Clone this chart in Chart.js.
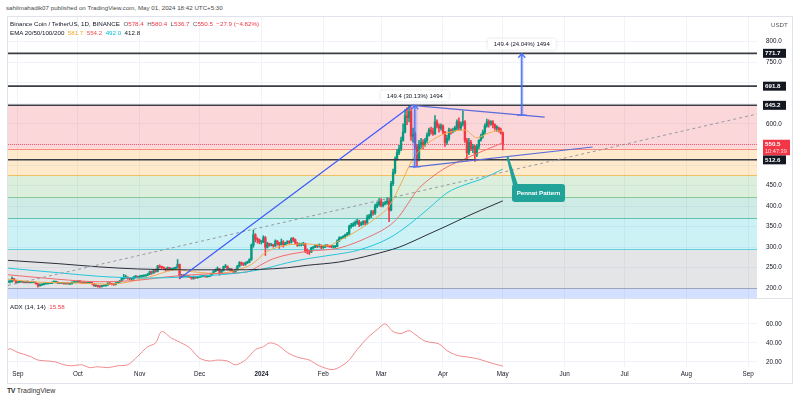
<!DOCTYPE html>
<html><head><meta charset="utf-8">
<script src="https://cdn.jsdelivr.net/npm/chart.js@4.4.1/dist/chart.umd.min.js"></script>
<style>
html,body{margin:0;padding:0;background:#fff;width:800px;height:400px;overflow:hidden;font-family:"Liberation Sans",Arial,sans-serif;}
.t{position:absolute;white-space:nowrap;font-size:6.2px;color:#131722;line-height:1;}
#frame{position:absolute;left:7px;top:16px;width:786px;height:368px;border:1px solid #e0e3eb;box-sizing:border-box;}
#w1{position:absolute;left:8px;top:17px;width:784px;height:281px;}
#w2{position:absolute;left:8px;top:299px;width:784px;height:83px;}
#sep{position:absolute;left:8px;top:298px;width:784px;height:1px;background:#e0e3eb;}
</style></head><body>
<div class="t" style="left:6px;top:5px;color:#4a4a4a;">sahilmahadik07 published on TradingView.com, May 01, 2024 18:42 UTC+5:30</div>
<div id="frame"></div>
<div id="w1"><canvas id="main" width="784" height="281"></canvas></div>
<div id="sep"></div>
<div id="w2"><canvas id="adx" width="784" height="83"></canvas></div>
<div class="t" style="left:10px;top:21px;z-index:5">Binance Coin / TetherUS, 1D, BINANCE&nbsp; <span style="color:#555">O</span><span style="color:#f23645">578.4</span>&nbsp; <span style="color:#555">H</span><span style="color:#f23645">580.4</span>&nbsp; <span style="color:#555">L</span><span style="color:#f23645">536.7</span>&nbsp; <span style="color:#555">C</span><span style="color:#f23645">550.5&nbsp; −27.9 (−4.82%)</span></div>
<div class="t" style="left:10px;top:30px;z-index:5">EMA 20/50/100/200&nbsp; <span style="color:#f5a623">581.7</span>&nbsp; <span style="color:#ef5350">554.2</span>&nbsp; <span style="color:#00bcd4">492.0</span>&nbsp; <span style="color:#131722">412.8</span></div>
<div class="t" style="left:771px;top:22px;color:#555;z-index:5">USDT</div>
<div class="t" style="left:10px;top:304px;z-index:5">ADX (14, 14)&nbsp; <span style="color:#f23645">15.58</span></div>
<div class="t" style="left:7px;top:387px;font-size:7px;color:#333;"><b style="letter-spacing:-0.5px">TV</b> TradingView</div>
<script>
// ---------------- data ----------------
const DAY0 = -5;            // first candle: 27 Aug 2023 (day 0 = 1 Sep 2023)
const firstOpen = 216;
const closes = [
216,216,224,219,214,
215,215,215,214,215,214,214,214,214,211,206,208,209,211,212,212,212,214,215,215,212,212,213,211,212,211,211,214,214,215,
218,214,213,214,212,213,213,212,206,206,205,204,206,206,208,212,211,210,209,213,215,218,224,226,227,224,223,223,228,228,227,
229,230,230,232,234,240,238,243,241,253,252,251,249,246,250,246,247,248,251,258,229,232,229,229,229,227,224,228,226,227,
228,229,230,228,229,231,236,241,245,248,238,243,252,254,246,247,243,240,245,254,262,260,258,262,264,270,305,330,320,318,313,
313,323,300,309,305,306,303,315,310,306,313,306,310,314,312,321,318,310,305,306,306,309,290,289,288,298,300,304,302,305,300,
300,305,303,302,301,301,302,315,322,323,325,330,333,350,353,356,360,362,355,358,362,360,372,376,385,383,400,404,412,
402,405,408,412,390,455,482,515,530,540,560,580,620,615,630,570,575,545,515,550,555,550,560,572,585,582,576,605,595,590,595,
580,555,565,585,582,585,590,605,590,600,605,560,530,555,540,545,525,545,560,570,580,595,605,600,605,598,590,590,585,578.4,
550.5];
const highs = [
217,218,228,224,220,
216,216,216,216,216,216,215,216,215,215,212,211,211,213,214,213,213,216,218,217,216,214,214,214,213,213,213,216,216,216,
219,219,215,215,215,214,214,214,212,208,207,206,207,207,209,214,214,212,211,214,216,219,226,234,232,228,225,225,229,231,229,
231,232,232,233,236,242,242,246,247,256,257,254,252,249,252,251,249,250,252,270,259,234,233,232,231,230,228,230,229,229,
229,230,231,231,231,232,237,243,247,252,248,244,254,258,254,249,248,244,247,256,265,264,262,264,266,272,308,342,333,323,320,
316,328,326,312,310,309,307,318,316,312,320,316,312,316,316,323,324,320,312,310,310,312,310,296,292,300,302,306,306,308,306,
304,306,306,305,304,303,304,318,325,325,328,332,336,354,358,360,364,368,366,362,365,365,378,380,390,390,405,410,418,
418,410,412,420,420,460,490,520,538,548,568,600,635,640,645,640,590,580,550,560,565,562,565,578,590,592,590,620,610,600,600,
598,582,572,590,588,590,595,610,615,605,632,608,565,565,560,550,548,550,562,575,585,600,612,610,608,608,600,596,592,590,
580.4];
const lows = [
214,213,215,218,212,
213,214,214,213,213,213,213,213,213,210,203,205,207,208,210,210,211,211,213,213,211,211,211,210,210,210,209,210,213,213,
214,213,212,212,211,211,212,210,205,204,203,202,203,205,205,207,209,208,207,208,212,214,217,222,224,222,221,221,222,225,225,
225,227,228,229,231,233,234,236,239,240,249,248,245,242,244,243,244,245,246,249,223,226,227,227,227,226,222,222,224,224,
226,227,228,227,227,228,230,235,240,243,232,236,242,250,244,244,241,236,239,244,252,256,255,256,260,262,268,300,313,310,308,
308,311,280,298,302,303,300,302,305,297,305,300,305,308,308,310,314,307,302,303,303,304,287,284,282,287,296,299,299,300,296,
297,299,301,300,299,298,299,301,314,319,321,322,328,330,346,350,352,356,350,352,354,354,356,368,372,378,380,396,400,
398,398,403,405,362,388,450,478,512,525,535,558,578,598,605,560,555,540,496,510,540,540,545,555,570,575,572,574,590,580,585,
575,545,550,560,575,578,582,585,585,585,595,555,511,525,535,530,509,520,540,558,565,575,592,592,596,590,585,582,580,575,
536.7];

// EMA lines: [day, value]
const ema20 = [[-5,222],[10,215],[30,213],[45,210],[55,215],[66,228],[80,245],[88,240],[100,236],[110,245],[117,258],[125,290],[135,305],[145,308],[155,303],[161,316],[170,340],[178,366],[186,400],[192,455],[198,515],[206,555],[215,578],[224,585],[230,566],[236,578],[241,583],[243,581.7]];
const ema50 = [[-5,233],[20,222],[41,216],[61,220],[75,228],[85,232],[100,236],[115,240],[121,255],[128,272],[145,290],[161,298],[178,330],[186,352],[191,375],[196,410],[200,438],[206,465],[215,495],[224,515],[232,532],[243,554.2]];
const ema100 = [[-5,249],[20,238],[41,229],[66,225],[85,228],[108,236],[121,245],[135,262],[145,272],[160,283],[170,292],[186,322],[196,355],[206,395],[215,432],[224,452],[232,465],[243,490]];
const ema200 = [[-5,268],[20,260],[41,252],[60,247],[85,245],[108,245],[121,246],[135,250],[145,256],[161,264],[178,282],[191,300],[196,310],[205,330],[215,352],[225,375],[232,390],[243,412.8]];

// ADX(14,14): [day, value]
const adx = [[-5,33],[-4,34],[0,30],[6,26],[10,22],[15,21],[19,20],[23,17],[27,16],[32,17],[36,14],[40,15],[45,14],[50,16],[55,17],[60,26],[65,36],[69,40],[72,52],[77,45],[80,42],[86,35],[91,24],[96,21],[100,22],[105,21],[109,17],[114,22],[119,33],[123,36],[126,40],[130,38],[135,30],[140,25],[146,22],[151,16],[158,12],[165,20],[170,33],[175,45],[180,54],[184,60],[188,52],[192,50],[196,53],[199,49],[204,42],[211,39],[215,32],[220,27],[226,25],[231,23],[237,19],[243,15.58]];

// axes
const monthDays = [0,30,61,91,122,153,182,213,243,274,304,335,366];
const monthLabels = ['Sep','Oct','Nov','Dec','2024','Feb','Mar','Apr','May','Jun','Jul','Aug','Sep'];
const priceTicks = [200,250,300,350,400,450,500,550,600,650,700,750,800];
const coveredPriceTicks = [500,550,650,700];   // hidden under the level tags
const adxTicks = [20,40,60];

// drawings
const fibHigh = 645.2, fibLow = 200.0;
const fibRatios = [0,0.236,0.382,0.5,0.618,0.786,1,1.618];
const fibColors = ['120,123,134','242,54,69','255,152,0','76,175,80','8,153,129','0,188,212','120,123,134','41,98,255'];
const hLevels = [771.7, 691.8, 645.2, 512.6];
const lastPrice = 550.5;
const dashedTrend = [[-5,207],[370.4,624]];
const riseTrend = [[81,224],[197.5,645.2]];
const pennantTop = [[197.5,645.2],[264,616.5]];
const pennantBottom = [[198,495],[288,543.8]];
const range1 = {d0:197.6, d1:200.2, from:495.8, to:645.2, text:'149.4 (30.13%) 1494'};
const range2 = {d0:251.6, d1:253.4, from:621.4, to:770.8, text:'149.4 (24.04%) 1494'};
const callout = {anchorDay:245.2, boxDay0:247.6, boxDay1:274.2, boxTop:454, boxBottom:410, text:'Pennat Pattern'};

// ---------------- build ----------------
const UP='#089981', DOWN='#f23645';
const bodies=[], wicks=[], cols=[];
let prev = firstOpen;
closes.forEach((c,i)=>{
  const o = prev, d = DAY0+i;
  bodies.push({x:d, y:[o,c]});
  wicks.push({x:d, y:[lows[i],highs[i]]});
  cols.push(c>=o?UP:DOWN);
  prev = c;
});
const pts = a => a.map(p=>({x:p[0],y:p[1]}));
const XMIN=-5, XMAX=370.4;
const FONT = "Liberation Sans";

function xScale(showLabels){
  return {
    type:'linear', min:XMIN, max:XMAX, offset:false,
    grid:{color:'#f0f3fa', drawTicks:false, offset:false},
    border:{display:false},
    afterBuildTicks:s=>{s.ticks = monthDays.map(v=>({value:v}));},
    afterFit:s=>{ if(!showLabels) s.height=0; else s.height=15; s.paddingLeft=0; s.paddingRight=0; },
    ticks:{display:showLabels, autoSkip:false, maxRotation:0, padding:3, color:'#131722',
      callback:(v,i)=>monthLabels[i],
      font:(ctx)=>({family:FONT,size:6.3,weight:(ctx.tick&&ctx.tick.label==='2024')?'bold':'normal'})}
  };
}

const overlay = {
  id:'overlay',
  beforeDatasetsDraw(chart){
    const {ctx, chartArea:a, scales:{x,y}} = chart;
    ctx.save();
    ctx.beginPath(); ctx.rect(a.left,a.top,a.width,a.height); ctx.clip();
    const span = fibHigh-fibLow;
    for(let i=1;i<fibRatios.length;i++){
      const y0 = y.getPixelForValue(fibHigh-fibRatios[i-1]*span);
      const y1 = i===fibRatios.length-1 ? a.bottom : y.getPixelForValue(fibHigh-fibRatios[i]*span);
      ctx.fillStyle='rgba('+fibColors[i]+',0.2)';
      ctx.fillRect(a.left,y0,a.width,y1-y0);
    }
    for(let i=0;i<fibRatios.length-1;i++){
      const yy = Math.round(y.getPixelForValue(fibHigh-fibRatios[i]*span))+0.5;
      ctx.strokeStyle='rgba('+fibColors[i]+',0.55)'; ctx.lineWidth=1;
      ctx.beginPath(); ctx.moveTo(a.left,yy); ctx.lineTo(a.right,yy); ctx.stroke();
    }
    const py = Math.round(y.getPixelForValue(lastPrice))+0.5;
    ctx.strokeStyle='rgba(242,54,69,0.7)'; ctx.setLineDash([1,1]);
    ctx.beginPath(); ctx.moveTo(a.left,py); ctx.lineTo(a.right,py); ctx.stroke();
    ctx.setLineDash([]);
    ctx.restore();
  },
  afterDatasetsDraw(chart){
    const {ctx, chartArea:a, scales:{x,y}} = chart;
    const P = (d,v)=>[x.getPixelForValue(d), y.getPixelForValue(v)];
    const seg = (pA,pB,color,w,dash)=>{
      const A=P(pA[0],pA[1]), B=P(pB[0],pB[1]);
      ctx.strokeStyle=color; ctx.lineWidth=w; ctx.setLineDash(dash||[]);
      ctx.beginPath(); ctx.moveTo(A[0],A[1]); ctx.lineTo(B[0],B[1]); ctx.stroke(); ctx.setLineDash([]);
    };
    ctx.save();
    ctx.beginPath(); ctx.rect(a.left,a.top,a.width,a.height); ctx.clip();
    hLevels.forEach(v=>{
      const yy = y.getPixelForValue(v);
      ctx.strokeStyle='#3a3d45'; ctx.lineWidth=1.6;
      ctx.beginPath(); ctx.moveTo(a.left,yy); ctx.lineTo(a.right,yy); ctx.stroke();
    });
    seg(dashedTrend[0],dashedTrend[1],'#9598a1',1,[3,3]);
    seg(riseTrend[0],riseTrend[1],'#3d5afe',1.2);
    seg(pennantTop[0],pennantTop[1],'#5c6bd8',1.2);
    seg(pennantBottom[0],pennantBottom[1],'#5c6bd8',1.2);
    [range1,range2].forEach(r=>{
      const xa=x.getPixelForValue(r.d0), xb=x.getPixelForValue(r.d1);
      const ya=y.getPixelForValue(r.from), yb=y.getPixelForValue(r.to);
      ctx.fillStyle='rgba(41,98,255,0.22)';
      ctx.fillRect(xa,yb,xb-xa,ya-yb);
      const xm=(xa+xb)/2;
      ctx.strokeStyle='#4a72f5'; ctx.lineWidth=1.3;
      ctx.beginPath(); ctx.moveTo(xa-3,ya); ctx.lineTo(xb+3,ya); ctx.stroke();
      ctx.beginPath(); ctx.moveTo(xm,ya); ctx.lineTo(xm,yb); ctx.stroke();
      ctx.beginPath(); ctx.moveTo(xm-3.5,yb+4); ctx.lineTo(xm,yb); ctx.lineTo(xm+3.5,yb+4); ctx.stroke();
      ctx.font='6px '+FONT;
      const tw=ctx.measureText(r.text).width, bw=tw+12, bh=11;
      const bx=xm-bw/2, by=yb-bh-4;
      ctx.shadowColor='rgba(0,0,0,0.15)'; ctx.shadowBlur=3;
      ctx.fillStyle='#fff';
      ctx.beginPath(); ctx.roundRect(bx,by,bw,bh,2); ctx.fill();
      ctx.shadowBlur=0;
      ctx.fillStyle='#131722'; ctx.textAlign='center'; ctx.textBaseline='middle';
      ctx.fillText(r.text,xm,by+bh/2+0.5);
    });
    const t = (callout.anchorDay-pennantBottom[0][0])/(pennantBottom[1][0]-pennantBottom[0][0]);
    const av = pennantBottom[0][1]+t*(pennantBottom[1][1]-pennantBottom[0][1]);
    const A = P(callout.anchorDay,av);
    const bx0=x.getPixelForValue(callout.boxDay0), bx1=x.getPixelForValue(callout.boxDay1);
    const by0=y.getPixelForValue(callout.boxTop), by1=y.getPixelForValue(callout.boxBottom);
    ctx.fillStyle='#22a39a';
    ctx.beginPath(); ctx.moveTo(A[0]-0.8,A[1]); ctx.lineTo(A[0]+1.2,A[1]); ctx.lineTo(bx0+6,by0+1); ctx.lineTo(bx0+1,by0+1); ctx.closePath(); ctx.fill();
    ctx.beginPath(); ctx.roundRect(bx0,by0,bx1-bx0,by1-by0,3); ctx.fill();
    ctx.fillStyle='#fff'; ctx.font='bold 6.2px '+FONT; ctx.textAlign='center'; ctx.textBaseline='middle';
    ctx.fillText(callout.text,(bx0+bx1)/2,(by0+by1)/2+0.5);
    ctx.restore();
  },
  afterDraw(chart){
    const {ctx, chartArea:a, scales:{y}} = chart;
    ctx.save();
    ctx.font='bold 6.2px '+FONT; ctx.textBaseline='middle'; ctx.textAlign='left';
    hLevels.forEach(v=>{
      const yy=y.getPixelForValue(v);
      ctx.fillStyle='#131722'; ctx.fillRect(a.right+6,yy-4.5,23,9);
      ctx.fillStyle='#fff'; ctx.fillText(v.toFixed(1),a.right+8,yy+0.3);
    });
    const py=y.getPixelForValue(lastPrice);
    ctx.fillStyle='#f23645'; ctx.fillRect(a.right+6,py-4.5,27,15.5);
    ctx.fillStyle='#fff'; ctx.fillText(lastPrice.toFixed(1),a.right+8,py+0.3);
    ctx.font='5.6px '+FONT; ctx.fillStyle='#ffd8db'; ctx.fillText('10:47:39',a.right+8,py+7.5);
    ctx.restore();
  }
};

new Chart(document.getElementById('main'),{
  type:'bar',
  data:{datasets:[
    {type:'line',data:pts(ema200),borderColor:'#2a2e39',borderWidth:1,pointRadius:0,cubicInterpolationMode:'monotone',order:1},
    {type:'line',data:pts(ema100),borderColor:'#26c6da',borderWidth:1,pointRadius:0,cubicInterpolationMode:'monotone',order:1},
    {type:'line',data:pts(ema50),borderColor:'#ef6c6c',borderWidth:1,pointRadius:0,cubicInterpolationMode:'monotone',order:1},
    {type:'line',data:pts(ema20),borderColor:'#f5a94a',borderWidth:1,pointRadius:0,cubicInterpolationMode:'monotone',order:1},
    {type:'bar',data:wicks,backgroundColor:cols,barThickness:0.9,grouped:false,order:3},
    {type:'bar',data:bodies,backgroundColor:cols,barThickness:1.7,minBarLength:1,grouped:false,order:2}
  ]},
  options:{
    responsive:false, animation:false, events:[],
    layout:{padding:0},
    plugins:{legend:{display:false},tooltip:{enabled:false}},
    scales:{
      x: xScale(false),
      y:{type:'linear',position:'right',min:176.4,max:860.1,beginAtZero:false,
        grid:{color:'#f0f3fa',drawTicks:false}, border:{display:false},
        afterBuildTicks:s=>{s.ticks=priceTicks.map(v=>({value:v}));},
        afterFit:s=>{s.width=35; s.paddingTop=0; s.paddingBottom=0;},
        ticks:{padding:9,color:'#131722',font:{family:FONT,size:6.3},
          callback:v=>coveredPriceTicks.includes(v)?'':v.toFixed(1)}}
    }
  },
  plugins:[overlay]
});

new Chart(document.getElementById('adx'),{
  type:'line',
  data:{datasets:[{data:pts(adx),borderColor:'#f28b8b',borderWidth:1,pointRadius:0,tension:0.3,clip:false}]},
  options:{
    responsive:false, animation:false, events:[],
    layout:{padding:0},
    plugins:{legend:{display:false},tooltip:{enabled:false}},
    scales:{
      x: xScale(true),
      y:{type:'linear',position:'right',min:14.7,max:86.3,
        grid:{color:'#f0f3fa',drawTicks:false}, border:{display:false},
        afterBuildTicks:s=>{s.ticks=adxTicks.map(v=>({value:v}));},
        afterFit:s=>{s.width=35; s.paddingTop=0; s.paddingBottom=0;},
        ticks:{padding:9,color:'#131722',font:{family:FONT,size:6.3},callback:v=>v.toFixed(2)}}
    }
  }
});
</script>
</body></html>
